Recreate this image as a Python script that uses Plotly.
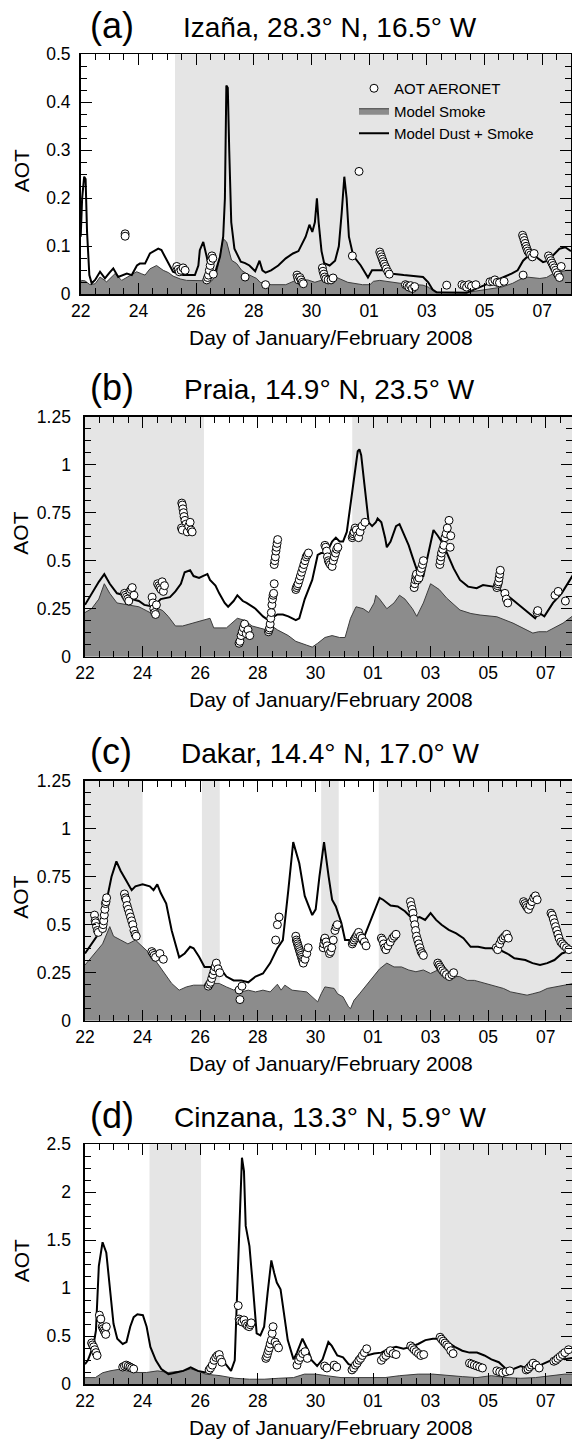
import plotly.graph_objects as go

W, H = 572, 1439
FONT = "Liberation Sans, Arial, Helvetica, sans-serif"

# ---------------- data (day of January 2008; Feb 1 = 32) ----------------
major_days = [22, 24, 26, 28, 30, 32, 34, 36, 38]
major_labels = ["22", "24", "26", "28", "30", "01", "03", "05", "07"]

# (a) Izana
izana_shade = [(25.27, 39.0)]
izana_total = [(22.00, 0.12), (22.05, 0.20), (22.12, 0.245), (22.17, 0.24), (22.22, 0.13), (22.30, 0.04),
               (22.38, 0.023), (22.50, 0.03), (22.67, 0.047), (22.84, 0.033), (23.00, 0.045), (23.13, 0.054),
               (23.30, 0.036), (23.45, 0.04), (23.60, 0.043), (23.77, 0.04), (23.95, 0.06), (24.05, 0.064),
               (24.23, 0.064), (24.40, 0.085), (24.55, 0.09), (24.69, 0.095), (24.80, 0.092), (24.98, 0.071),
               (25.20, 0.047), (25.40, 0.042), (25.56, 0.04), (25.96, 0.04), (26.08, 0.06), (26.13, 0.092),
               (26.25, 0.109), (26.37, 0.078), (26.48, 0.047), (26.65, 0.043), (26.83, 0.078), (26.94, 0.12),
               (27.00, 0.20), (27.05, 0.435), (27.10, 0.43), (27.15, 0.30), (27.22, 0.15), (27.33, 0.095),
               (27.41, 0.085), (27.55, 0.068), (27.70, 0.065), (27.85, 0.06), (28.05, 0.048), (28.20, 0.07),
               (28.30, 0.05), (28.41, 0.045), (28.60, 0.05), (28.85, 0.06), (29.11, 0.075), (29.36, 0.085),
               (29.55, 0.09), (29.80, 0.12), (29.93, 0.145), (30.03, 0.13), (30.12, 0.15), (30.19, 0.20),
               (30.25, 0.15), (30.35, 0.09), (30.44, 0.065), (30.63, 0.06), (30.82, 0.07), (30.95, 0.10),
               (31.05, 0.17), (31.14, 0.245), (31.22, 0.20), (31.30, 0.12), (31.45, 0.08), (31.71, 0.06),
               (31.96, 0.035), (32.10, 0.05), (32.50, 0.05), (32.80, 0.043), (33.20, 0.04), (33.87, 0.036),
               (34.05, 0.025), (34.20, 0.01), (34.34, 0.004), (35.38, 0.003), (35.84, 0.015), (36.42, 0.029),
               (36.94, 0.043), (37.15, 0.05), (37.34, 0.07), (37.55, 0.082), (37.69, 0.085), (37.85, 0.075),
               (38.03, 0.067), (38.20, 0.07), (38.38, 0.081), (38.60, 0.095), (38.80, 0.098), (39.00, 0.09)]
izana_smoke = [(22.00, 0.025), (22.03, 0.029), (22.15, 0.028), (22.32, 0.02), (22.50, 0.022), (22.67, 0.036),
               (22.90, 0.026), (23.19, 0.043), (23.42, 0.029), (23.60, 0.035), (23.94, 0.047), (24.10, 0.043),
               (24.23, 0.04), (24.40, 0.053), (24.63, 0.06), (24.86, 0.05), (25.05, 0.045), (25.20, 0.038),
               (25.45, 0.032), (25.67, 0.029), (26.25, 0.029), (26.55, 0.028), (26.71, 0.043), (26.83, 0.078),
               (26.94, 0.116), (27.06, 0.109), (27.23, 0.071), (27.41, 0.064), (27.58, 0.05), (27.75, 0.043),
               (28.10, 0.033), (28.22, 0.025), (28.60, 0.02), (29.11, 0.02), (29.49, 0.03), (29.87, 0.03),
               (30.12, 0.025), (30.38, 0.03), (30.63, 0.03), (30.88, 0.035), (31.26, 0.025), (31.77, 0.02),
               (32.03, 0.02), (32.15, 0.027), (32.37, 0.029), (33.07, 0.023), (33.87, 0.019), (34.05, 0.015),
               (34.28, 0.005), (35.40, 0.004), (35.80, 0.008), (36.19, 0.012), (36.60, 0.015), (36.98, 0.023),
               (37.20, 0.03), (37.46, 0.036), (37.92, 0.033), (38.15, 0.035), (38.38, 0.043), (38.85, 0.05),
               (39.00, 0.05)]
izana_obs = [(23.54, 0.126), (23.54, 0.121), (25.33, 0.058), (25.38, 0.052), (25.42, 0.047), (25.48, 0.05),
             (25.55, 0.055), (25.62, 0.05), (26.37, 0.03), (26.40, 0.035), (26.43, 0.04), (26.46, 0.05),
             (26.49, 0.06), (26.52, 0.07), (26.55, 0.08), (26.58, 0.075), (26.60, 0.042), (27.70, 0.036),
             (28.41, 0.02), (29.50, 0.04), (29.52, 0.035), (29.55, 0.03), (29.60, 0.035), (29.64, 0.03),
             (29.68, 0.025), (29.72, 0.022), (30.38, 0.055), (30.40, 0.048), (30.43, 0.042), (30.46, 0.036),
             (30.50, 0.032), (30.58, 0.03), (30.68, 0.03), (30.75, 0.034), (31.42, 0.08), (31.65, 0.256),
             (32.37, 0.088), (32.40, 0.083), (32.43, 0.078), (32.46, 0.073), (32.49, 0.068), (32.52, 0.063),
             (32.56, 0.058), (32.60, 0.053), (32.65, 0.047), (32.70, 0.042), (33.26, 0.02), (33.32, 0.018),
             (33.38, 0.015), (33.44, 0.018), (33.50, 0.012), (33.58, 0.016), (34.69, 0.019), (35.22, 0.02),
             (35.30, 0.018), (35.38, 0.015), (35.46, 0.02), (35.55, 0.017), (35.70, 0.02), (36.19, 0.026),
             (36.28, 0.027), (36.36, 0.03), (36.44, 0.025), (36.52, 0.024), (36.68, 0.027), (37.34, 0.04),
             (37.32, 0.123), (37.35, 0.118), (37.38, 0.112), (37.41, 0.106), (37.44, 0.10), (37.47, 0.095),
             (37.50, 0.09), (37.55, 0.086), (37.60, 0.082), (37.66, 0.078), (37.72, 0.085), (38.22, 0.08),
             (38.26, 0.075), (38.30, 0.07), (38.34, 0.065), (38.38, 0.06), (38.42, 0.055), (38.46, 0.05),
             (38.50, 0.045), (38.55, 0.04), (38.60, 0.035), (38.66, 0.058)]

# (b) Praia
praia_shade = [(22.0, 26.13), (31.28, 39.0)]
praia_total = [(22.00, 0.27), (22.23, 0.33), (22.48, 0.39), (22.67, 0.43), (22.86, 0.38), (23.11, 0.33),
               (23.37, 0.32), (23.62, 0.30), (23.87, 0.29), (24.06, 0.27), (24.38, 0.26), (24.63, 0.30),
               (24.95, 0.31), (25.14, 0.34), (25.33, 0.38), (25.46, 0.44), (25.65, 0.45), (25.77, 0.42),
               (25.96, 0.41), (26.09, 0.42), (26.25, 0.43), (26.34, 0.40), (26.53, 0.37), (26.66, 0.33),
               (26.85, 0.28), (26.97, 0.26), (27.16, 0.29), (27.29, 0.32), (27.48, 0.29), (27.61, 0.28),
               (27.73, 0.27), (27.92, 0.25), (28.18, 0.21), (28.37, 0.19), (28.68, 0.22), (28.87, 0.22),
               (29.06, 0.21), (29.32, 0.19), (29.44, 0.20), (29.63, 0.30), (29.89, 0.40), (30.08, 0.53),
               (30.20, 0.54), (30.39, 0.54), (30.58, 0.60), (30.71, 0.62), (30.84, 0.60), (30.96, 0.60),
               (31.09, 0.65), (31.22, 0.80), (31.34, 0.95), (31.47, 1.07), (31.53, 1.08), (31.59, 1.05),
               (31.70, 0.90), (31.85, 0.70), (31.97, 0.68), (32.10, 0.70), (32.16, 0.72), (32.29, 0.70),
               (32.42, 0.62), (32.48, 0.57), (32.61, 0.60), (32.80, 0.68), (32.92, 0.69), (33.11, 0.63),
               (33.24, 0.58), (33.37, 0.52), (33.49, 0.47), (33.62, 0.41), (33.75, 0.42), (33.87, 0.50),
               (34.00, 0.58), (34.10, 0.66), (34.25, 0.63), (34.38, 0.60), (34.51, 0.56), (34.63, 0.52),
               (34.80, 0.46), (35.02, 0.40), (35.30, 0.365), (35.60, 0.357), (35.82, 0.373), (36.17, 0.365),
               (36.50, 0.34), (36.86, 0.295), (37.30, 0.243), (37.63, 0.20), (37.75, 0.23), (37.95, 0.21),
               (38.25, 0.28), (38.55, 0.33), (38.84, 0.40), (39.00, 0.44)]
praia_smoke = [(22.00, 0.23), (22.23, 0.25), (22.48, 0.30), (22.67, 0.38), (22.86, 0.33), (23.11, 0.28),
               (23.49, 0.27), (23.87, 0.26), (24.13, 0.24), (24.38, 0.22), (24.55, 0.25), (24.70, 0.24),
               (24.89, 0.21), (25.14, 0.16), (25.39, 0.16), (25.65, 0.17), (25.90, 0.18), (26.15, 0.19),
               (26.34, 0.20), (26.47, 0.15), (26.91, 0.15), (27.29, 0.20), (27.54, 0.19), (27.80, 0.16),
               (28.05, 0.15), (28.30, 0.14), (28.49, 0.16), (28.68, 0.14), (29.06, 0.11), (29.32, 0.08),
               (29.70, 0.06), (29.89, 0.05), (30.08, 0.07), (30.33, 0.10), (30.58, 0.11), (30.84, 0.10),
               (31.03, 0.10), (31.22, 0.20), (31.41, 0.26), (31.66, 0.25), (31.85, 0.23), (32.04, 0.28),
               (32.10, 0.32), (32.23, 0.30), (32.48, 0.25), (32.73, 0.28), (32.92, 0.32), (33.11, 0.30),
               (33.37, 0.25), (33.52, 0.21), (33.75, 0.28), (34.00, 0.38), (34.30, 0.35), (34.56, 0.305),
               (35.02, 0.243), (35.40, 0.225), (35.72, 0.217), (36.30, 0.208), (36.86, 0.175), (37.55, 0.123),
               (37.75, 0.13), (38.03, 0.13), (38.60, 0.175), (39.00, 0.22)]
praia_obs = [(23.37, 0.33), (23.40, 0.32), (23.44, 0.31), (23.48, 0.30), (23.52, 0.29), (23.56, 0.34),
             (23.60, 0.35), (23.64, 0.36), (23.70, 0.32), (24.33, 0.31), (24.36, 0.28), (24.39, 0.25),
             (24.42, 0.23), (24.45, 0.22), (24.48, 0.27), (24.52, 0.38), (24.56, 0.37), (24.60, 0.36),
             (24.64, 0.35), (24.68, 0.39), (24.72, 0.34), (24.76, 0.37), (25.36, 0.80), (25.38, 0.79),
             (25.40, 0.77), (25.42, 0.75), (25.44, 0.73), (25.47, 0.71), (25.50, 0.69), (25.35, 0.67),
             (25.38, 0.66), (25.55, 0.65), (25.60, 0.68), (25.65, 0.70), (25.68, 0.66), (25.72, 0.65),
             (27.35, 0.07), (27.38, 0.08), (27.42, 0.11), (27.46, 0.13), (27.50, 0.15), (27.54, 0.17),
             (27.60, 0.12), (27.66, 0.14), (27.72, 0.11), (28.37, 0.13), (28.39, 0.14), (28.41, 0.15),
             (28.43, 0.17), (28.45, 0.20), (28.47, 0.23), (28.49, 0.27), (28.51, 0.30), (28.53, 0.32),
             (28.55, 0.33), (28.57, 0.38), (28.57, 0.48), (28.59, 0.50), (28.61, 0.52), (28.63, 0.55),
             (28.65, 0.57), (28.67, 0.59), (28.69, 0.61), (29.32, 0.35), (29.34, 0.36), (29.37, 0.37),
             (29.40, 0.38), (29.44, 0.40), (29.48, 0.42), (29.52, 0.44), (29.56, 0.46), (29.60, 0.48),
             (29.64, 0.50), (29.68, 0.52), (29.72, 0.53), (29.76, 0.54), (30.33, 0.58), (30.36, 0.57),
             (30.39, 0.55), (30.42, 0.52), (30.45, 0.50), (30.48, 0.49), (30.52, 0.48), (30.58, 0.47),
             (30.62, 0.50), (30.66, 0.52), (30.70, 0.54), (30.74, 0.56), (30.78, 0.57), (31.28, 0.62),
             (31.30, 0.63), (31.32, 0.64), (31.34, 0.65), (31.38, 0.67), (31.42, 0.66), (31.46, 0.63),
             (31.50, 0.62), (31.55, 0.65), (31.62, 0.68), (31.72, 0.70), (33.43, 0.36), (33.45, 0.38),
             (33.47, 0.40), (33.49, 0.42), (33.51, 0.43), (33.55, 0.40), (33.60, 0.41), (33.64, 0.44),
             (33.68, 0.46), (33.72, 0.48), (33.75, 0.50), (34.32, 0.48), (34.34, 0.50), (34.36, 0.52),
             (34.38, 0.54), (34.42, 0.56), (34.46, 0.58), (34.50, 0.62), (34.54, 0.64), (34.58, 0.67),
             (34.64, 0.71), (34.70, 0.63), (34.68, 0.57), (36.30, 0.36), (36.32, 0.37), (36.34, 0.38),
             (36.36, 0.39), (36.38, 0.41), (36.40, 0.43), (36.42, 0.45), (36.58, 0.33), (36.63, 0.30),
             (36.68, 0.28), (37.70, 0.23), (37.72, 0.24), (38.32, 0.32), (38.43, 0.34), (38.68, 0.29)]

# (c) Dakar
dakar_shade = [(22.0, 24.0), (26.06, 26.68), (30.2, 30.81), (32.2, 39.0)]
dakar_total = [(22.00, 0.35), (22.23, 0.40), (22.48, 0.455), (22.73, 0.61), (22.92, 0.75), (23.09, 0.83),
               (23.24, 0.78), (23.43, 0.73), (23.62, 0.68), (23.75, 0.70), (24.00, 0.71), (24.25, 0.70),
               (24.38, 0.68), (24.51, 0.71), (24.63, 0.665), (24.82, 0.61), (25.01, 0.47), (25.27, 0.33),
               (25.46, 0.35), (25.65, 0.385), (25.77, 0.377), (25.96, 0.333), (26.15, 0.28), (26.66, 0.28),
               (26.91, 0.23), (27.16, 0.21), (27.42, 0.21), (27.67, 0.20), (27.92, 0.23), (28.18, 0.246),
               (28.43, 0.30), (28.68, 0.377), (28.87, 0.42), (29.06, 0.68), (29.23, 0.93), (29.44, 0.82),
               (29.63, 0.65), (29.89, 0.55), (30.01, 0.58), (30.14, 0.75), (30.30, 0.93), (30.46, 0.75),
               (30.58, 0.63), (30.71, 0.595), (30.90, 0.51), (31.03, 0.42), (31.22, 0.42), (31.41, 0.44),
               (31.59, 0.40), (31.72, 0.447), (31.97, 0.54), (32.23, 0.64), (32.35, 0.63), (32.61, 0.60),
               (32.86, 0.595), (33.11, 0.57), (33.37, 0.53), (33.62, 0.54), (33.81, 0.525), (34.00, 0.56),
               (34.19, 0.525), (34.38, 0.50), (34.63, 0.473), (34.89, 0.455), (35.14, 0.43), (35.39, 0.385),
               (35.65, 0.385), (35.90, 0.377), (36.15, 0.377), (36.41, 0.368), (36.66, 0.35), (36.91, 0.325),
               (37.29, 0.316), (37.54, 0.30), (37.80, 0.29), (38.05, 0.30), (38.30, 0.316), (38.56, 0.35),
               (38.75, 0.36), (39.00, 0.37)]
dakar_smoke = [(22.00, 0.29), (22.35, 0.35), (22.61, 0.40), (22.86, 0.49), (22.99, 0.44), (23.24, 0.42),
               (23.49, 0.40), (23.75, 0.42), (24.00, 0.385), (24.25, 0.35), (24.51, 0.30), (24.76, 0.246),
               (25.01, 0.194), (25.27, 0.159), (25.52, 0.176), (25.77, 0.185), (26.15, 0.185), (26.41, 0.194),
               (26.66, 0.194), (26.91, 0.176), (27.16, 0.16), (27.29, 0.168), (27.42, 0.15), (27.67, 0.159),
               (27.92, 0.15), (28.18, 0.159), (28.43, 0.15), (28.68, 0.19), (28.81, 0.159), (28.94, 0.185),
               (29.19, 0.159), (29.70, 0.15), (29.95, 0.115), (30.08, 0.098), (30.20, 0.14), (30.33, 0.176),
               (30.65, 0.168), (30.77, 0.14), (30.96, 0.124), (31.15, 0.072), (31.22, 0.063), (31.34, 0.106),
               (31.53, 0.14), (31.85, 0.20), (32.23, 0.27), (32.48, 0.30), (32.73, 0.28), (32.99, 0.28),
               (33.24, 0.264), (33.49, 0.255), (33.75, 0.264), (34.00, 0.246), (34.25, 0.264), (34.51, 0.246),
               (34.76, 0.23), (35.01, 0.23), (35.27, 0.21), (35.52, 0.21), (35.90, 0.194), (36.28, 0.176),
               (36.53, 0.168), (36.78, 0.15), (37.16, 0.14), (37.35, 0.133), (37.54, 0.14), (37.80, 0.15),
               (38.05, 0.168), (38.30, 0.176), (38.56, 0.185), (39.00, 0.195)]
dakar_obs = [(22.33, 0.55), (22.35, 0.52), (22.37, 0.51), (22.40, 0.49), (22.43, 0.47), (22.46, 0.46),
             (22.61, 0.48), (22.63, 0.50), (22.65, 0.52), (22.67, 0.55), (22.69, 0.58), (22.71, 0.61),
             (22.73, 0.62), (22.75, 0.64), (23.37, 0.66), (23.40, 0.64), (23.43, 0.63), (23.46, 0.60),
             (23.50, 0.58), (23.54, 0.56), (23.58, 0.54), (23.62, 0.52), (23.66, 0.50), (23.70, 0.47),
             (23.74, 0.45), (23.78, 0.44), (24.32, 0.36), (24.36, 0.35), (24.40, 0.34), (24.45, 0.33),
             (24.60, 0.35), (24.72, 0.32), (26.28, 0.18), (26.32, 0.19), (26.36, 0.20), (26.40, 0.22),
             (26.44, 0.24), (26.48, 0.26), (26.52, 0.28), (26.56, 0.30), (26.62, 0.27), (26.68, 0.25),
             (27.35, 0.16), (27.45, 0.18), (27.38, 0.11), (28.62, 0.42), (28.68, 0.50), (28.74, 0.54),
             (29.32, 0.44), (29.34, 0.42), (29.36, 0.41), (29.38, 0.40), (29.40, 0.39), (29.42, 0.38),
             (29.44, 0.37), (29.46, 0.36), (29.48, 0.35), (29.50, 0.34), (29.52, 0.33), (29.54, 0.32),
             (29.56, 0.31), (29.58, 0.30), (29.64, 0.32), (29.70, 0.35), (29.75, 0.38), (30.27, 0.38),
             (30.29, 0.40), (30.31, 0.42), (30.33, 0.43), (30.37, 0.41), (30.41, 0.39), (30.45, 0.37),
             (30.49, 0.35), (30.53, 0.36), (30.57, 0.38), (30.62, 0.42), (30.68, 0.47), (30.72, 0.49),
             (30.76, 0.50), (31.28, 0.40), (31.31, 0.41), (31.34, 0.42), (31.38, 0.43), (31.42, 0.44),
             (31.46, 0.45), (31.50, 0.46), (31.56, 0.44), (31.62, 0.43), (31.70, 0.41), (31.76, 0.39),
             (32.29, 0.43), (32.33, 0.42), (32.37, 0.40), (32.41, 0.38), (32.45, 0.37), (32.52, 0.39),
             (32.60, 0.41), (32.68, 0.43), (32.74, 0.44), (32.80, 0.45), (33.30, 0.62), (33.33, 0.60),
             (33.36, 0.58), (33.39, 0.56), (33.42, 0.53), (33.45, 0.50), (33.48, 0.47), (33.51, 0.44),
             (33.55, 0.42), (33.59, 0.40), (33.63, 0.38), (33.67, 0.36), (33.71, 0.35), (33.75, 0.34),
             (34.25, 0.30), (34.29, 0.29), (34.33, 0.28), (34.37, 0.27), (34.42, 0.26), (34.48, 0.25),
             (34.55, 0.24), (34.65, 0.23), (34.74, 0.24), (34.80, 0.25), (36.28, 0.38), (36.33, 0.37),
             (36.40, 0.40), (36.46, 0.42), (36.52, 0.43), (36.58, 0.44), (36.64, 0.45), (36.70, 0.43),
             (37.23, 0.62), (37.27, 0.61), (37.31, 0.60), (37.35, 0.59), (37.40, 0.58), (37.46, 0.60),
             (37.52, 0.62), (37.58, 0.64), (37.64, 0.65), (37.70, 0.63), (38.18, 0.56), (38.22, 0.55),
             (38.26, 0.53), (38.30, 0.51), (38.34, 0.49), (38.38, 0.47), (38.42, 0.45), (38.46, 0.43),
             (38.52, 0.41), (38.58, 0.40), (38.64, 0.39), (38.72, 0.38), (38.80, 0.37)]

# (d) Cinzana
cinzana_shade = [(24.24, 26.03), (34.33, 39.0)]
cinzana_total = [(22.00, 0.21), (22.10, 0.25), (22.29, 0.40), (22.38, 0.56), (22.48, 1.23), (22.61, 1.48),
                 (22.74, 1.37), (22.87, 1.02), (22.99, 0.63), (23.12, 0.475), (23.31, 0.42), (23.44, 0.44),
                 (23.57, 0.60), (23.69, 0.70), (23.82, 0.73), (24.01, 0.72), (24.14, 0.60), (24.27, 0.39),
                 (24.46, 0.25), (24.65, 0.16), (24.90, 0.106), (25.16, 0.123), (25.41, 0.14), (25.67, 0.176),
                 (25.92, 0.14), (26.18, 0.123), (26.37, 0.14), (26.56, 0.25), (26.75, 0.26), (26.94, 0.19),
                 (27.07, 0.14), (27.20, 0.25), (27.32, 1.16), (27.39, 1.87), (27.45, 2.36), (27.52, 2.22),
                 (27.58, 1.65), (27.71, 1.44), (27.83, 1.02), (27.96, 0.53), (28.09, 0.51), (28.22, 0.60),
                 (28.34, 0.95), (28.47, 1.29), (28.57, 1.16), (28.66, 1.06), (28.79, 0.99), (28.92, 0.74),
                 (29.04, 0.46), (29.24, 0.26), (29.36, 0.33), (29.55, 0.475), (29.75, 0.35), (29.87, 0.25),
                 (30.06, 0.19), (30.25, 0.26), (30.45, 0.44), (30.57, 0.40), (30.76, 0.30), (30.96, 0.28),
                 (31.15, 0.21), (31.34, 0.19), (31.46, 0.28), (31.59, 0.30), (31.78, 0.30), (32.04, 0.32),
                 (32.29, 0.33), (32.55, 0.37), (32.80, 0.39), (33.06, 0.37), (33.31, 0.39), (33.57, 0.42),
                 (33.82, 0.46), (34.08, 0.475), (34.33, 0.475), (34.59, 0.44), (34.84, 0.39), (35.10, 0.35),
                 (35.35, 0.33), (35.61, 0.33), (35.87, 0.30), (36.11, 0.26), (36.37, 0.23), (36.62, 0.16),
                 (36.88, 0.16), (37.13, 0.19), (37.39, 0.16), (37.64, 0.176), (37.89, 0.21), (38.15, 0.25),
                 (38.41, 0.28), (38.66, 0.26), (39.00, 0.28)]
cinzana_smoke = [(22.00, 0.07), (22.36, 0.07), (22.61, 0.12), (22.87, 0.14), (23.25, 0.16), (23.44, 0.14),
                 (23.76, 0.123), (24.14, 0.123), (24.52, 0.14), (24.90, 0.123), (25.41, 0.14), (25.67, 0.16),
                 (25.92, 0.14), (26.18, 0.106), (26.69, 0.09), (27.20, 0.063), (27.71, 0.053), (28.22, 0.053),
                 (28.73, 0.063), (29.24, 0.07), (29.62, 0.106), (30.00, 0.106), (30.38, 0.09), (30.89, 0.07),
                 (31.40, 0.07), (31.91, 0.07), (32.42, 0.07), (32.93, 0.09), (33.57, 0.106), (34.08, 0.106),
                 (34.59, 0.09), (35.10, 0.08), (35.61, 0.07), (36.11, 0.09), (36.62, 0.07), (37.13, 0.063),
                 (37.64, 0.07), (38.15, 0.09), (38.66, 0.106), (39.00, 0.106)]
cinzana_obs = [(22.23, 0.43), (22.26, 0.41), (22.30, 0.39), (22.34, 0.36), (22.38, 0.33), (22.42, 0.30),
               (22.50, 0.72), (22.55, 0.68), (22.60, 0.60), (22.63, 0.58), (22.66, 0.56), (22.69, 0.54),
               (22.72, 0.52), (22.74, 0.60), (23.31, 0.18), (23.37, 0.19), (23.43, 0.20), (23.50, 0.19),
               (23.56, 0.18), (23.62, 0.17), (23.69, 0.16), (26.31, 0.15), (26.36, 0.17), (26.42, 0.20),
               (26.48, 0.25), (26.54, 0.28), (26.60, 0.30), (26.66, 0.31), (26.70, 0.26), (26.75, 0.23),
               (27.32, 0.82), (27.35, 0.68), (27.38, 0.66), (27.45, 0.65), (27.52, 0.67), (27.58, 0.63),
               (27.64, 0.61), (27.70, 0.60), (27.74, 0.62), (27.77, 0.64), (28.28, 0.27), (28.31, 0.29),
               (28.34, 0.32), (28.37, 0.35), (28.40, 0.38), (28.43, 0.42), (28.47, 0.46), (28.50, 0.53),
               (28.53, 0.60), (28.60, 0.44), (28.66, 0.41), (28.72, 0.38), (29.36, 0.20), (29.42, 0.25),
               (29.48, 0.28), (29.56, 0.32), (29.64, 0.34), (29.72, 0.27), (30.32, 0.19), (30.40, 0.17),
               (30.65, 0.20), (30.74, 0.18), (31.27, 0.15), (31.33, 0.17), (31.39, 0.20), (31.45, 0.22),
               (31.51, 0.25), (31.57, 0.27), (31.63, 0.30), (31.70, 0.33), (31.78, 0.37), (32.29, 0.25),
               (32.37, 0.28), (32.45, 0.30), (32.53, 0.33), (32.60, 0.35), (32.70, 0.32), (32.80, 0.31),
               (33.31, 0.40), (33.37, 0.38), (33.43, 0.36), (33.50, 0.34), (33.58, 0.32), (33.66, 0.30),
               (33.76, 0.31), (34.33, 0.49), (34.38, 0.47), (34.44, 0.45), (34.50, 0.43), (34.56, 0.41),
               (34.62, 0.39), (34.70, 0.35), (34.78, 0.32), (35.35, 0.22), (35.43, 0.21), (35.52, 0.20),
               (35.61, 0.19), (35.70, 0.18), (35.80, 0.17), (36.30, 0.14), (36.40, 0.13), (36.50, 0.12),
               (36.62, 0.13), (36.75, 0.14), (37.32, 0.15), (37.38, 0.16), (37.44, 0.18), (37.50, 0.20),
               (37.56, 0.22), (37.66, 0.20), (37.77, 0.17), (38.28, 0.24), (38.35, 0.25), (38.42, 0.27),
               (38.50, 0.29), (38.58, 0.31), (38.66, 0.33), (38.79, 0.36)]

titles = ["Izaña, 28.3° N, 16.5° W", "Praia, 14.9° N, 23.5° W",
          "Dakar, 14.4° N, 17.0° W", "Cinzana, 13.3° N, 5.9° W"]
letters = ["(a)", "(b)", "(c)", "(d)"]
yticks_ab = [0, 0.1, 0.2, 0.3, 0.4, 0.5]
yticks_bc = [0, 0.25, 0.5, 0.75, 1, 1.25]
yticks_d = [0, 0.5, 1, 1.5, 2, 2.5]

# ---------------- layout geometry (pixels) ----------------
panels = [
    dict(shade=izana_shade, total=izana_total, smoke=izana_smoke, obs=izana_obs,
         yt=yticks_ab, ymin=0.025, left=80.7, right=571, top=54.3, xend=39.0, stand=5),
    dict(shade=praia_shade, total=praia_total, smoke=praia_smoke, obs=praia_obs,
         yt=yticks_bc, ymin=0.0625, left=85, right=572, top=416.7, xend=38.91, stand=9),
    dict(shade=dakar_shade, total=dakar_total, smoke=dakar_smoke, obs=dakar_obs,
         yt=yticks_bc, ymin=0.0625, left=85, right=572, top=780.7, xend=38.91, stand=9),
    dict(shade=cinzana_shade, total=cinzana_total, smoke=cinzana_smoke, obs=cinzana_obs,
         yt=yticks_d, ymin=0.125, left=85, right=572, top=1144.3, xend=38.91, stand=9),
]
PH = 240.0


def px(x):
    return x / W


def py(y):
    return 1 - y / H


def fmt(v):
    return "%g" % v


fig = go.Figure()
annotations = []
shapes = []
for i, p in enumerate(panels):
    n = "" if i == 0 else str(i + 1)
    xa, ya = "x" + n, "y" + n
    sd, sv = zip(*p["smoke"])
    td, tv = zip(*p["total"])
    od, ov = zip(*p["obs"])
    first = i == 0
    fig.add_trace(go.Scatter(x=sd, y=sv, mode="lines", fill="tozeroy", fillcolor="#8c8c8c",
                             line=dict(color="#3c3c3c", width=1), name="Model Smoke",
                             legendrank=2, showlegend=first, xaxis=xa, yaxis=ya))
    fig.add_trace(go.Scatter(x=td, y=tv, mode="lines", line=dict(color="black", width=2),
                             name="Model Dust + Smoke", legendrank=3, showlegend=first,
                             xaxis=xa, yaxis=ya))
    fig.add_trace(go.Scatter(x=od, y=ov, mode="markers",
                             marker=dict(symbol="circle", size=8, color="white",
                                         line=dict(color="black", width=1)),
                             name="AOT AERONET", legendrank=1, showlegend=first,
                             xaxis=xa, yaxis=ya))
    for (a, b) in p["shade"]:
        shapes.append(dict(type="rect", xref=xa, yref=ya + " domain", x0=a, x1=b, y0=0, y1=1,
                           fillcolor="#e5e5e5", line=dict(width=0), layer="below"))
    top, bot = p["top"], p["top"] + PH
    axis_common = dict(showline=True, linecolor="black", linewidth=1.6, mirror="ticks",
                       ticks="inside", ticklen=11, tickwidth=1, tickcolor="black",
                       showgrid=False, zeroline=False, automargin=False,
                       tickfont=dict(family=FONT, size=17.5, color="black"))
    fig.update_layout(**{
        ("xaxis" + n): dict(axis_common, anchor=ya, domain=[px(p["left"]), px(p["right"])],
                            range=[22, p["xend"]], tickmode="array", tickvals=major_days,
                            ticktext=major_labels,
                            minor=dict(tick0=22, dtick=0.5, ticks="inside", ticklen=6,
                                       tickwidth=1, tickcolor="black", showgrid=False)),
        ("yaxis" + n): dict(axis_common, anchor=xa, domain=[py(bot), py(top)],
                            range=[0, p["yt"][-1]], tickmode="array", tickvals=p["yt"],
                            ticktext=[fmt(v) for v in p["yt"]], ticklabelstandoff=p["stand"],
                            minor=dict(tick0=0, dtick=p["ymin"], ticks="inside", ticklen=6,
                                       tickwidth=1, tickcolor="black", showgrid=False)),
    })
    annotations.append(dict(text=letters[i], x=px(87.6), y=py(top - 29), xref="paper", yref="paper",
                            xanchor="left", yanchor="middle", showarrow=False,
                            font=dict(family=FONT, size=36, color="black")))
    annotations.append(dict(text=titles[i], x=px(330), y=py(top - 27), xref="paper", yref="paper",
                            xanchor="center", yanchor="middle", showarrow=False,
                            font=dict(family=FONT, size=28, color="black")))
    annotations.append(dict(text="AOT", x=px(21), y=py(top + PH / 2 - 3), xref="paper", yref="paper",
                            xanchor="center", yanchor="middle", textangle=-90, showarrow=False,
                            font=dict(family=FONT, size=21, color="black")))
    annotations.append(dict(text="Day of January/February 2008", x=px(331), y=py(bot + 42.7),
                            xref="paper", yref="paper", xanchor="center", yanchor="middle",
                            showarrow=False, font=dict(family=FONT, size=21, color="black")))

fig.update_layout(
    template="none",
    width=W, height=H, margin=dict(l=0, r=0, t=0, b=0, autoexpand=False),
    paper_bgcolor="white", plot_bgcolor="white",
    font=dict(family=FONT, color="black"),
    shapes=shapes, annotations=annotations, showlegend=True,
    legend=dict(x=px(354), y=py(72), xanchor="left", yanchor="top", bgcolor="rgba(0,0,0,0)",
                font=dict(family=FONT, size=15, color="black"), tracegroupgap=0),
)

fig.write_html("out.html", config={"displayModeBar": False, "staticPlot": True},
               post_script="document.body.style.margin='0px';document.body.style.overflow='hidden';")
